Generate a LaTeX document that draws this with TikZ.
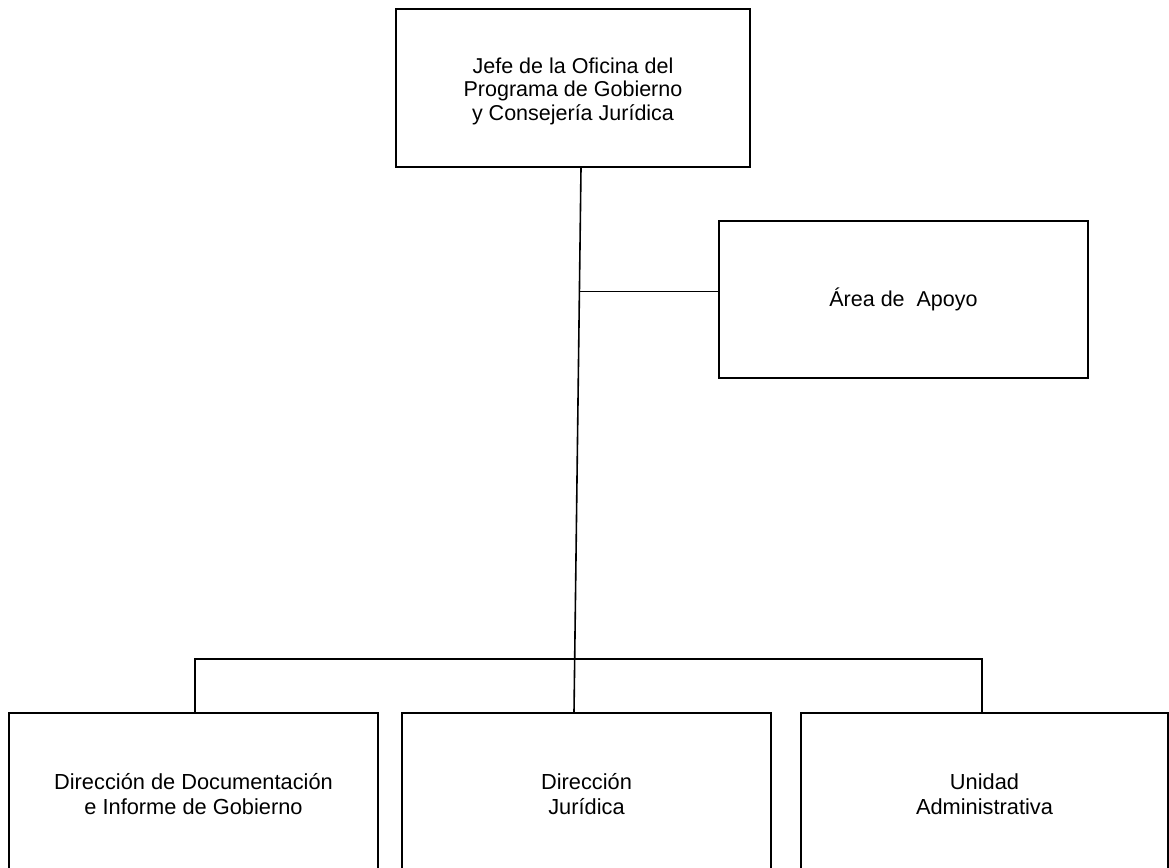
\documentclass[tikz,border=0pt]{standalone}
\usepackage{fontspec}
\setmainfont{Liberation Sans}
\usetikzlibrary{calc}
\begin{document}
\begin{tikzpicture}[x=1pt,y=-1pt,
  box/.style={draw=black,line width=1.6pt,align=center,inner sep=0pt,
    font=\fontsize{21.5}{23.5}\selectfont},
  link/.style={draw=black,line width=1.6pt}]
\useasboundingbox (0,0) rectangle (1169,867);
\clip (0,0) rectangle (1169,867);
\node[box,minimum width=354pt,minimum height=158pt] (top) at (573,88)
  {\strut\\[-17.5pt]Jefe de la Oficina del\\Programa de Gobierno\\y Consejería Jurídica};
\node[box,minimum width=369pt,minimum height=157pt] (area) at (903.5,299.5)
  {Área de~ Apoyo};
\node[box,minimum width=369pt,minimum height=163pt,font=\fontsize{21.8}{25}\selectfont] (left) at (193.5,794.5)
  {Dirección de Documentación\\e Informe de Gobierno};
\node[box,minimum width=369pt,minimum height=163pt,font=\fontsize{21.8}{25}\selectfont] (mid) at (586.5,794.5)
  {Dirección\\Jurídica};
\node[box,minimum width=367pt,minimum height=163pt,font=\fontsize{21.8}{25}\selectfont] (right) at (984.5,794.5)
  {Unidad\\Administrativa};
\coordinate (vt) at ([xshift=8pt]top.south);
\coordinate (vb) at ([xshift=-12.5pt]mid.north);
\coordinate (j) at ($(vt)!0.227!(vb)$);
\coordinate (bl) at ([xshift=1.5pt]left.north);
\coordinate (br) at ([xshift=-2.5pt]right.north);
\draw[link] (vt) -- (vb);
\draw[link] (j) -- (j -| area.west);
\draw[link] (bl) -- ++(0,-53) -| (br);
\end{tikzpicture}
\end{document}
